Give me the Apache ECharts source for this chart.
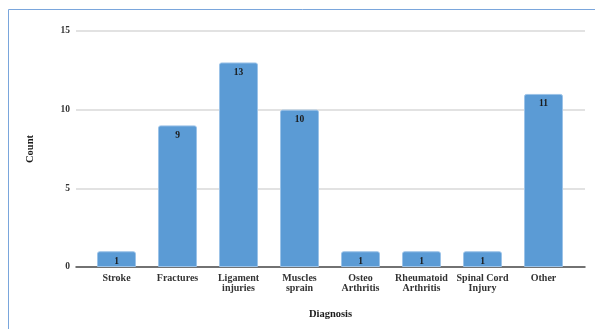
<!DOCTYPE html>
<html>
<head>
<meta charset="utf-8">
<script src="https://cdn.jsdelivr.net/npm/echarts@6/dist/echarts.min.js"></script>
<style>
  html, body { margin: 0; padding: 0; background: #fff; }
  #chart { width: 595px; height: 329px; }
</style>
</head>
<body>
<div id="chart"></div>
<script>
const categories = ['Stroke', 'Fractures', 'Ligament\ninjuries', 'Muscles\nsprain', 'Osteo\nArthritis', 'Rheumatoid\nArthritis', 'Spinal Cord\nInjury', 'Other']
const counts = [1, 9, 13, 10, 1, 1, 1, 11]
const yTicks = { min: 0, max: 15, interval: 5 }

const font = 'Liberation Serif'
const chart = echarts.init(document.getElementById('chart'))

chart.setOption({
  animation: false,
  graphic: [{
    type: 'rect',
    shape: { x: 8.5, y: 9.5, width: 600, height: 340 },
    style: { fill: null, stroke: '#7aa6dc', lineWidth: 1 },
    silent: true
  }],
  grid: [
    // grid lines and axis line span the wider area
    { left: 76, right: 10, top: 31, bottom: 62 },
    // bars sit inside a slightly narrower band
    { left: 86, right: 21, top: 31, bottom: 62 }
  ],
  xAxis: [
    {
      gridIndex: 0, type: 'category', data: [''],
      axisLine: { show: true, lineStyle: { color: '#4d4d4d', width: 1.5 } },
      axisTick: { show: false }, axisLabel: { show: false },
      name: 'Diagnosis', nameLocation: 'middle', nameGap: 42,
      nameTextStyle: { fontFamily: font, fontWeight: 'bold', fontSize: 10.5, color: '#1a1a1a' }
    },
    {
      gridIndex: 1, type: 'category', data: categories,
      axisLine: { show: false }, axisTick: { show: false },
      axisLabel: {
        interval: 0, margin: 6, fontFamily: font, fontWeight: 'bold',
        fontSize: 10, lineHeight: 10, color: '#333'
      }
    }
  ],
  yAxis: [
    {
      gridIndex: 0, type: 'value', min: yTicks.min, max: yTicks.max, interval: yTicks.interval,
      axisLine: { show: false }, axisTick: { show: false },
      splitLine: { lineStyle: { color: '#d9d9d9', width: 1.5 } },
      axisLabel: { margin: 6, fontFamily: font, fontWeight: 'bold', fontSize: 9.5, color: '#333' },
      name: 'Count', nameLocation: 'middle', nameGap: 40, nameRotate: 90,
      nameTextStyle: { fontFamily: font, fontWeight: 'bold', fontSize: 10.5, color: '#1a1a1a' }
    },
    {
      gridIndex: 1, type: 'value', min: yTicks.min, max: yTicks.max, interval: yTicks.interval,
      show: false
    }
  ],
  series: [{
    type: 'bar',
    xAxisIndex: 1, yAxisIndex: 1,
    data: counts,
    barWidth: 39,
    itemStyle: {
      color: '#5b9bd5',
      borderColor: '#9cc3e8',
      borderWidth: 1,
      borderRadius: [2, 2, 0, 0]
    },
    label: {
      show: true, position: 'insideTop', distance: 5,
      fontFamily: font, fontWeight: 'bold', fontSize: 9.5, color: '#1a1a1a'
    }
  }]
})
</script>
</body>
</html>
